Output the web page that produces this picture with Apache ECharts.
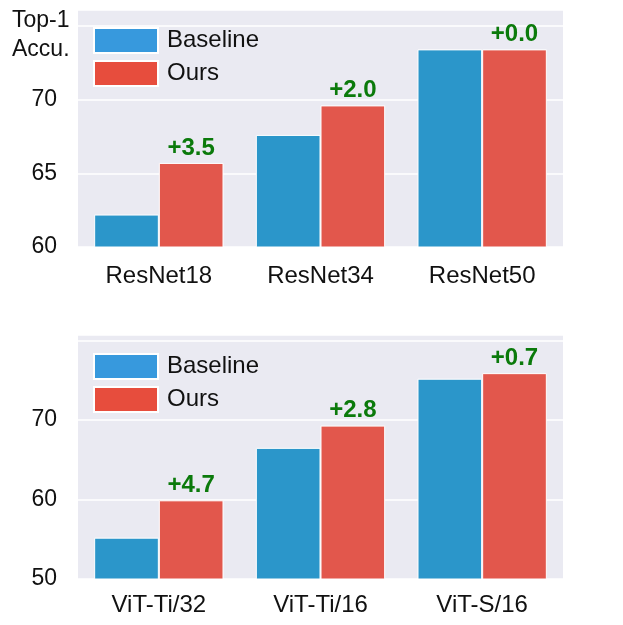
<!DOCTYPE html>
<html>
<head>
<meta charset="utf-8">
<title>Top-1 Accuracy</title>
<script src="https://cdn.jsdelivr.net/npm/echarts@6/dist/echarts.min.js"></script>
<style>
    html, body { margin: 0; padding: 0; background: #fff; }
    #main { width: 623px; height: 625px; }
</style>
</head>
<body>
<div id="main"></div>
<script>
// 数据 (ResNet)
var resnetNames = ["ResNet18", "ResNet34", "ResNet50"];
var resnetBaseline = [62.2, 67.6, 73.4];
var resnetOurs = [65.7, 69.6, 73.4];
var resnetGain = ["+3.5", "+2.0", "+0.0"];
var resnetTicks = [60, 65, 70];

// 数据 (ViT)
var vitNames = ["ViT-Ti/32", "ViT-Ti/16", "ViT-S/16"];
var vitBaseline = [55.2, 66.5, 75.2];
var vitOurs = [59.9, 69.3, 75.9];
var vitGain = ["+4.7", "+2.8", "+0.7"];
var vitTicks = [50, 60, 70];

var FONT = "Liberation Sans";
var barBlue = "#2b96ca";
var barRed = "#e2574c";
var legBlue = "#3799dd";
var legRed = "#e74d3d";

var makeX = function (idx, names, margin) {
    return {
        type: "category",
        gridIndex: idx,
        data: names,
        axisLine: { show: false },
        axisTick: { show: false },
        axisLabel: { color: "#111", fontSize: 24, fontFamily: FONT, margin: margin }
    };
};

var makeY = function (idx, min, max, interval, ticks) {
    return {
        type: "value",
        gridIndex: idx,
        min: min,
        max: max,
        interval: interval,
        axisLine: { show: false },
        axisTick: { show: false },
        splitLine: { lineStyle: { color: "#ffffff", width: 1.5 } },
        axisLabel: {
            color: "#111", fontSize: 23, fontFamily: FONT, margin: 21,
            formatter: function (v) { // 只显示需要的刻度
                return ticks.indexOf(v) >= 0 ? String(v) : "";
            }
        }
    };
};

var makeLegend = function (top) {
    return {
        left: 88,
        top: top,
        orient: "vertical",
        itemWidth: 64,
        itemHeight: 25,
        itemGap: 6,
        icon: "rect",
        selectedMode: false,
        textStyle: { color: "#111", fontSize: 24, lineHeight: 25, fontFamily: FONT, padding: [0, 0, 0, 4] },
        data: [
            { name: "Baseline", itemStyle: { color: legBlue } },
            { name: "Ours", itemStyle: { color: legRed } }
        ]
    };
};

var makeBars = function (idx, base, ours, gain) {
    return [{
        name: "Baseline",
        type: "bar",
        xAxisIndex: idx,
        yAxisIndex: idx,
        data: base,
        barGap: "0%",
        barCategoryGap: "20%",
        itemStyle: { color: barBlue, borderColor: "#fff", borderWidth: 1 }
    }, {
        name: "Ours",
        type: "bar",
        xAxisIndex: idx,
        yAxisIndex: idx,
        data: ours,
        barGap: "0%",
        barCategoryGap: "20%",
        itemStyle: { color: barRed, borderColor: "#fff", borderWidth: 1 },
        label: {
            show: true,
            position: "top",
            distance: 3,
            color: "#0b7a0b",
            fontWeight: "bold",
            fontSize: 24,
            fontFamily: FONT,
            formatter: function (p) { return gain[p.dataIndex]; }
        }
    }];
};

var myChart = echarts.init(document.getElementById("main"), null, { renderer: "canvas" });

var option = {
    backgroundColor: "#ffffff",
    animation: false,
    graphic: [{
        type: "text",
        left: 12,
        top: 6,
        style: {
            text: "Top-1\nAccu.",
            fill: "#111",
            font: "23px " + FONT,
            lineHeight: 29,
            align: "right",
            textAlign: "right"
        }
    }],
    grid: [
        { left: 78, top: 10, width: 485, height: 237, show: true, backgroundColor: "#eaeaf2", borderWidth: 0 },
        { left: 78, top: 335, width: 485, height: 244, show: true, backgroundColor: "#eaeaf2", borderWidth: 0 }
    ],
    legend: [makeLegend(22), makeLegend(348)],
    xAxis: [makeX(0, resnetNames, 17), makeX(1, vitNames, 14)],
    yAxis: [makeY(0, 60, 76.07, 5, resnetTicks), makeY(1, 50, 80.7, 10, vitTicks)],
    series: makeBars(0, resnetBaseline, resnetOurs, resnetGain)
        .concat(makeBars(1, vitBaseline, vitOurs, vitGain))
};

myChart.setOption(option);
window.addEventListener("resize", function () {
    myChart.resize();
});
</script>
</body>
</html>
